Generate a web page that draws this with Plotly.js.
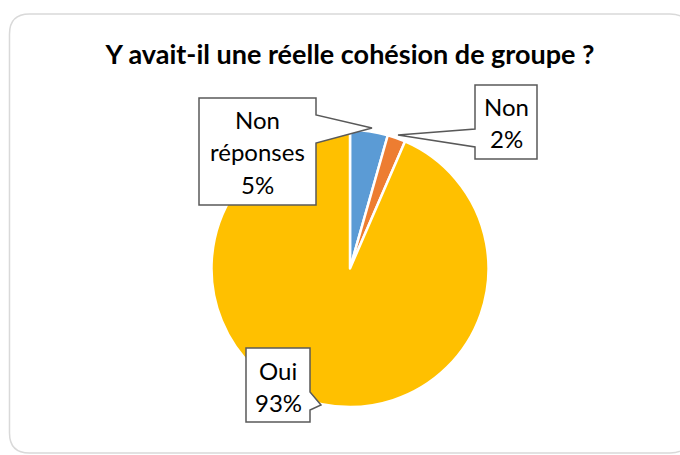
<!DOCTYPE html>
<html>
<head>
<meta charset="utf-8">
<script src="https://cdn.plot.ly/plotly-3.0.1.min.js"></script>
<style>
html,body{margin:0;padding:0;background:#fff;}
#chart{width:680px;height:455px;}
</style>
</head>
<body>
<div id="chart"></div>
<script>
// ---- data ----
var categories = ["Non réponses", "Non", "Oui"];
var values = [4.4, 2.1, 93.5];
var pctLabels = ["5%", "2%", "93%"];
var colors = ["#5B9BD5", "#ED7D31", "#FFC000"];
var titleText = "Y avait-il une réelle cohésion de groupe ?";

// ---- layout helpers (pixel -> paper) ----
var W = 680, H = 455;
function px(x){ return x / W; }
function py(y){ return 1 - y / H; }
function poly(pts){
  return pts.map(function(p, i){ return (i ? "L" : "M") + px(p[0]).toFixed(5) + "," + py(p[1]).toFixed(5); }).join(" ") + " Z";
}
function roundRect(L, T, R, B, r){
  function P(x, y){ return px(x).toFixed(5) + "," + py(y).toFixed(5); }
  return "M" + P(L, T + r) + " Q" + P(L, T) + " " + P(L + r, T) +
         " L" + P(R - r, T) + " Q" + P(R, T) + " " + P(R, T + r) +
         " L" + P(R, B - r) + " Q" + P(R, B) + " " + P(R - r, B) +
         " L" + P(L + r, B) + " Q" + P(L, B) + " " + P(L, B - r) + " Z";
}

// pie geometry
var cx = 350, cy = 268.5, rad = 138.5;

// callout boxes (layout)
var callouts = [
  {pts: [[199,98],[316,98],[316,115],[372,128],[316,143],[316,205],[199,205]], tx: 257.5, ty: 152},
  {pts: [[475,85],[537,85],[537,159],[475,159],[475,147],[398,135],[475,129]], tx: 506, ty: 122},
  {pts: [[246,348],[310,348],[310,392],[321,405],[310,410],[310,422],[246,422]], tx: 278, ty: 386}
];
var lineGap = 32;
var font = "Lato, 'Open Sans', 'Liberation Sans', sans-serif";

var shapes = [{
  type: "path", xref: "paper", yref: "paper",
  path: roundRect(9.5, 14, 690, 453, 20),
  line: {color: "#D9D9D9", width: 1.5}, fillcolor: "rgba(0,0,0,0)", layer: "below"
}];
var annotations = [];
callouts.forEach(function(c, i){
  shapes.push({
    type: "path", xref: "paper", yref: "paper", path: poly(c.pts),
    line: {color: "#595959", width: 1.5}, fillcolor: "#FFFFFF", layer: "above"
  });
  var lines = categories[i].split(" ").concat([pctLabels[i]]);
  var n = lines.length;
  lines.forEach(function(t, k){
    var yy = c.ty + (k - (n - 1) / 2) * lineGap;
    annotations.push({
      text: t, showarrow: false, xref: "paper", yref: "paper",
      x: px(c.tx), y: py(yy), xanchor: "center", yanchor: "middle",
      font: {family: font, size: 24, color: "#000000"}
    });
  });
});

var trace = {
  type: "pie",
  labels: categories,
  values: values,
  sort: false,
  direction: "clockwise",
  rotation: 0,
  textinfo: "none",
  hoverinfo: "label+percent",
  marker: {colors: colors, line: {color: "#FFFFFF", width: 2.5}},
  domain: {x: [px(cx - rad), px(cx + rad)], y: [py(cy + rad), py(cy - rad)]},
  showlegend: false
};

var layout = {
  width: W, height: H,
  margin: {l: 0, r: 0, t: 0, b: 0},
  paper_bgcolor: "#FFFFFF",
  showlegend: false,
  title: {
    text: "<b>" + titleText + "</b>",
    x: px(350), xanchor: "center",
    y: py(55), yanchor: "middle", yref: "container",
    font: {family: font, size: 27, color: "#000000"}
  },
  shapes: shapes,
  annotations: annotations
};

Plotly.newPlot("chart", [trace], layout, {displayModeBar: false, staticPlot: true});
</script>
</body>
</html>
